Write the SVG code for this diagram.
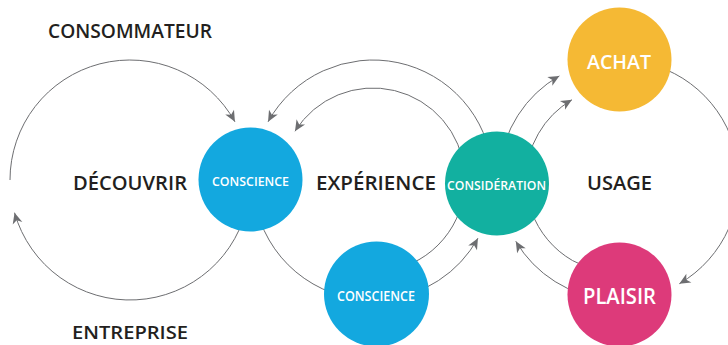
<svg xmlns="http://www.w3.org/2000/svg" width="728" height="345" viewBox="0 0 728 345">
<style>
.lbl{font-family:"Open Sans","Liberation Sans",sans-serif;font-weight:600;fill:#231f20;text-anchor:middle}
.nt{font-family:"Open Sans","Liberation Sans",sans-serif;font-weight:600;fill:#ffffff;text-anchor:middle}
.arc{fill:none;stroke:#6d6e71;stroke-width:1}
.arr{marker-end:url(#ah)}
</style>
<defs>
<marker id="ah" viewBox="-12 -6 12 12" refX="0" refY="0" markerWidth="12" markerHeight="12" orient="auto" markerUnits="userSpaceOnUse">
<path d="M0,0 L-11,-5 L-8,0 L-11,5 z" fill="#6d6e71"/>
</marker>
</defs>
<rect width="728" height="345" fill="#ffffff"/>
<g id="connectors">
<path class="arc arr" d="M10,180 A120,120 0 0 1 234.95,121.82"/>
<path class="arc arr" d="M248.18,200.84 A120,120 0 0 1 14.54,212.67"/>
<path class="arc arr" d="M492.54,169.54 A120,120 0 0 0 268.05,121.82"/>
<path class="arc arr" d="M464.65,171.98 A92,92 0 0 0 294.98,131.25"/>
<path class="arc" d="M253.46,190.46 A120,120 0 0 0 362.54,299.54"/>
<path class="arc arr" d="M383.46,299.54 A120,120 0 0 0 477.95,238.18"/>
<path class="arc" d="M388.98,270.6 A92,92 0 0 0 465,180"/>
<path class="arc arr" d="M499.46,169.54 A120,120 0 0 1 559.36,75.9"/>
<path class="arc arr" d="M526,180 A93,93 0 0 1 571.94,99.79"/>
<path class="arc arr" d="M608.54,299.54 A120,120 0 0 1 515.8,241.3"/>
<path class="arc" d="M602.85,271.59 A93,93 0 0 1 526,180"/>
<path class="arc arr" d="M629.46,60.46 A120,120 0 0 1 679.36,283.7"/>
</g>
<g id="labels">
<text class="lbl" x="130" y="38" font-size="20" textLength="164" lengthAdjust="spacingAndGlyphs">CONSOMMATEUR</text>
<text class="lbl" x="130" y="190" font-size="19" textLength="114" lengthAdjust="spacingAndGlyphs">DÉCOUVRIR</text>
<text class="lbl" x="130" y="339" font-size="18" textLength="116" lengthAdjust="spacingAndGlyphs">ENTREPRISE</text>
<text class="lbl" x="376" y="190" font-size="19" textLength="120" lengthAdjust="spacingAndGlyphs">EXPÉRIENCE</text>
<text class="lbl" x="619.5" y="190" font-size="19" textLength="65" lengthAdjust="spacingAndGlyphs">USAGE</text>
</g>
<g id="node-conscience-1">
<circle cx="250.5" cy="179.5" r="52" fill="#13a8df"/>
<text class="nt" x="250.5" y="186" font-size="13" textLength="77" lengthAdjust="spacingAndGlyphs">CONSCIENCE</text>
</g>
<g id="node-consideration">
<circle cx="497" cy="183.5" r="52" fill="#12b0a0"/>
<text class="nt" x="496.5" y="190" font-size="12.5" textLength="99" lengthAdjust="spacingAndGlyphs">CONSIDÉRATION</text>
</g>
<g id="node-conscience-2">
<circle cx="376.5" cy="294" r="52.5" fill="#13a8df"/>
<text class="nt" x="376" y="301" font-size="13.5" textLength="78" lengthAdjust="spacingAndGlyphs">CONSCIENCE</text>
</g>
<g id="node-achat">
<circle cx="619.5" cy="59.5" r="52" fill="#f5b934"/>
<text class="nt" x="619" y="69" font-size="19.5" textLength="64" lengthAdjust="spacingAndGlyphs">ACHAT</text>
</g>
<g id="node-plaisir">
<circle cx="619.5" cy="294.5" r="52" fill="#dd3a7a"/>
<text class="nt" x="619.5" y="304" font-size="21" textLength="73" lengthAdjust="spacingAndGlyphs">PLAISIR</text>
</g>
</svg>
